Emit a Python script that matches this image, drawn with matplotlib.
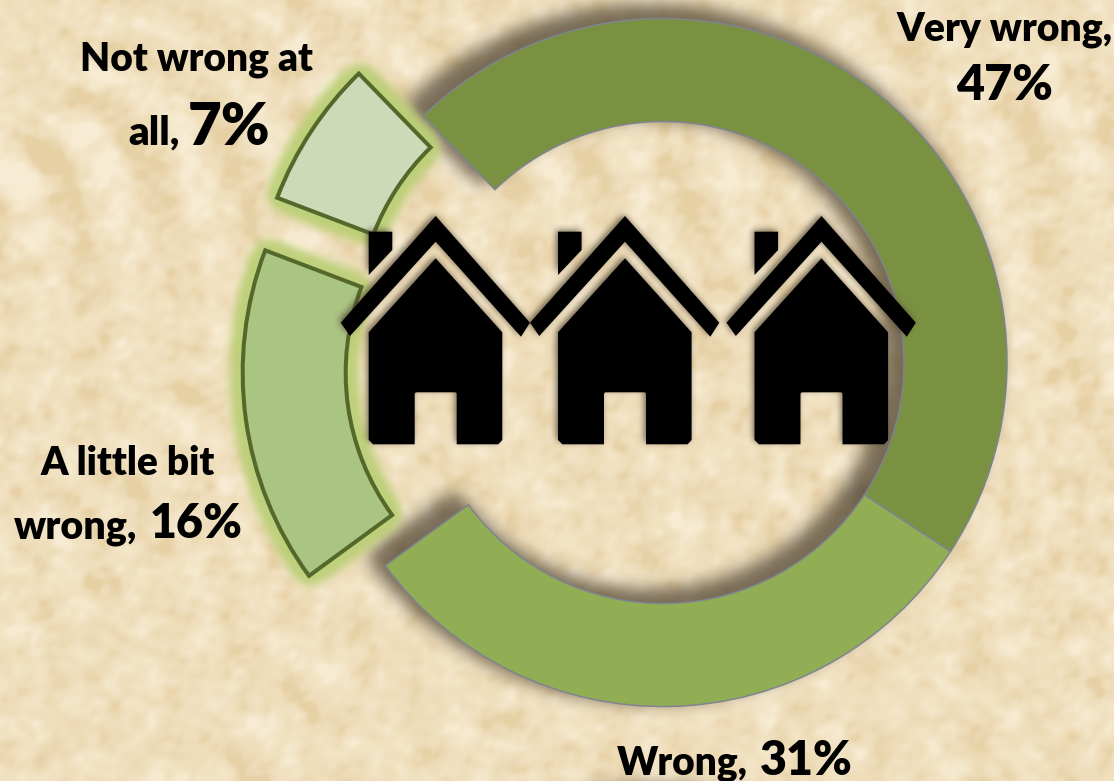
import numpy as np
import matplotlib
matplotlib.use("Agg")
import matplotlib.pyplot as plt
from matplotlib.patches import Polygon
from matplotlib.path import Path
from matplotlib.colors import LinearSegmentedColormap, to_rgb

categories = ["Very wrong", "Wrong", "A little bit wrong", "Not wrong at all"]
values = [47, 31, 16, 7]
explode_px = [0, 0, 77, 77]
colors = ["#7A9142", "#91AE55", "#AAC482", "#CDDAB8"]

W, H = 1114, 781
plt.rcParams['font.family'] = ['Lato', 'DejaVu Sans']
fig = plt.figure(figsize=(W / 100, H / 100), dpi=100)
ax = fig.add_axes([0, 0, 1, 1])

def Y(py):
    return H - py

yy, xx = np.mgrid[0:H, 0:W]          # yy: pixels from the top
px, py_up = xx + 0.5, H - (yy + 0.5)

def blur(a, sigma):
    fy = np.fft.fftfreq(a.shape[0])[:, None]
    fx = np.fft.rfftfreq(a.shape[1])[None, :]
    g = np.exp(-2 * (np.pi * sigma) ** 2 * (fx ** 2 + fy ** 2))
    return np.fft.irfft2(np.fft.rfft2(a) * g, s=a.shape)

def overlay(alpha, color, z):
    rgba = np.zeros(alpha.shape + (4,))
    rgba[..., :3] = to_rgb(color)
    rgba[..., 3] = np.clip(alpha, 0, 1)
    ax.imshow(rgba, extent=(0, W, 0, H), origin="upper", zorder=z, aspect="auto",
              interpolation="bilinear")

# parchment background (deterministic layered waves)
tex = np.zeros((H, W))
for k in range(1, 160):
    ang = k * 2.39996
    freq = 0.07 + 0.42 * ((k * 0.61803) % 1) ** 1.5
    warp = 10 * np.sin(xx * 0.031 + k) + 10 * np.sin(yy * 0.037 + 2 * k)
    tex += np.sin((xx * np.cos(ang) + yy * np.sin(ang) + warp) * freq + k * 1.7) / (0.5 + 6 * freq)
lo, hi = np.percentile(tex, [1, 99])
tex = np.clip((tex - lo) / (hi - lo), 0, 1)
cm = LinearSegmentedColormap.from_list("p", ["#E6D0A4", "#EEDCB8", "#F2E3C4", "#F7ECD3"])
ax.imshow(tex, cmap=cm, extent=(0, W, 0, H), origin="upper", zorder=0, aspect="auto",
          interpolation="bilinear")

cx, cy = 663, Y(362.5)
R, rw = 344, 103
wedges, _ = ax.pie(values, radius=R, center=(cx, cy), startangle=134.2, counterclock=False,
                   explode=explode_px, colors=colors,
                   wedgeprops=dict(width=rw), normalize=True)

def wedge_mask(w, dx=0, dy=0):
    x0, y0 = w.center[0] + dx, w.center[1] + dy
    r = np.hypot(px - x0, py_up - y0)
    th = np.degrees(np.arctan2(py_up - y0, px - x0))
    span = (w.theta2 - w.theta1) % 360
    return ((r <= w.r) & (r >= w.r - w.width) & (((th - w.theta1) % 360) <= span)).astype(float)

glow = np.zeros((H, W))
for i, w in enumerate(wedges):
    w.set_zorder(5)
    if explode_px[i]:
        w.set_edgecolor("#55682B")
        w.set_linewidth(2.9)
        w.set_joinstyle("miter")
        glow = np.maximum(glow, wedge_mask(w))
    else:
        w.set_edgecolor("#7F8490")
        w.set_linewidth(1.1)
        spread = (blur(wedge_mask(w, dx=-14, dy=9), 6) > 0.16).astype(float)
        overlay(blur(spread, 8) * 0.72, "#4A3F2E", 2)
dilated = (blur(glow, 7) > 0.03).astype(float)
overlay(blur(dilated, 4) * 0.92, "#B9CF74", 3)

# three houses (decoration)
house_apex = [435.7, 625.0, 821.5]
roof = [(0, 216), (94.3, 322.7), (85.3, 336.7), (0, 241.7), (-85.7, 336), (-95, 322.7)]
body = [(0, 258.3), (66.6, 332.3), (66.6, 440), (62.6, 444.3), (21, 444.3), (21, 393.5), (19.8, 392.3),
        (-19.8, 392.3), (-21, 393.5), (-21, 444.3), (-62.6, 444.3), (-67, 440), (-67, 332.3)]
chim = [(-67, 231.7), (-43.4, 231.7), (-43.4, 250), (-67, 275)]
pts_grid = np.column_stack([px.ravel(), py_up.ravel()])
hmask = np.zeros((H, W))
for a in house_apex:
    for shape in (roof, body, chim):
        pts = [(a + x, Y(y)) for x, y in shape]
        hmask = np.maximum(hmask, Path(pts + pts[:1]).contains_points(pts_grid).reshape(H, W).astype(float))
        ax.add_patch(Polygon(pts, closed=True, facecolor="black", edgecolor="none", zorder=8))
hshadow = blur(np.roll(np.roll(hmask, -2, axis=0), -2, axis=1), 3.2)
overlay(hshadow * 0.75, "#4A3F2E", 7)

ax.set_xlim(0, W)
ax.set_ylim(0, H)
ax.set_aspect("auto")
ax.axis("off")

def t(x, py, s, size, ha="center"):
    ax.text(x, Y(py), s, fontsize=size, fontweight=800, ha=ha, va="baseline", color="black", zorder=10)

LBL, PCT = 28, 35
t(1005, 40, "Very wrong,", 28.2)
t(1005, 100, "47%", PCT)
t(197, 70, "Not wrong at", LBL)
t(180, 145, "all,", 29, "right")
t(188, 145, "7%", 42, "left")
t(128, 475, "A little bit", LBL)
t(137, 538, "wrong,", 28.4, "right")
t(150, 538, "16%", 33.5, "left")
t(748, 775, "Wrong,", LBL, "right")
t(760, 775, "31%", 33.5, "left")

fig.savefig("out.png", dpi=100)
